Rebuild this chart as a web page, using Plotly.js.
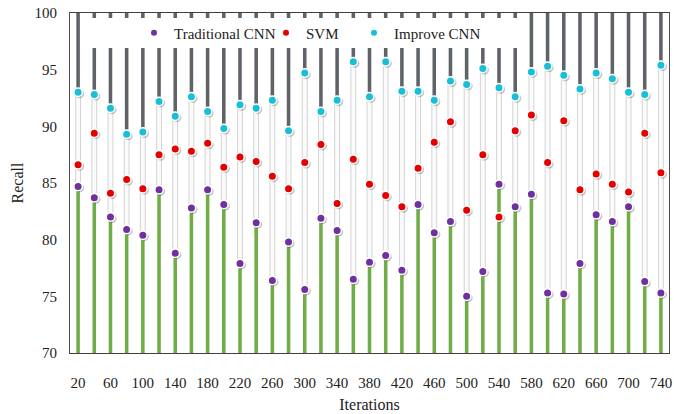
<!DOCTYPE html>
<html>
<head>
<meta charset="utf-8">
<script src="https://cdn.plot.ly/plotly-3.0.1.min.js"></script>
<style>html,body{margin:0;padding:0;background:#fff;}#chart{width:674px;height:414px;}</style>
</head>
<body>
<div id="chart"></div>
<script>
var iterations = ['20','40','60','80','100','120','140','160','180','200','220','240','260','280','300','320','340','360','380','400','420','440','460','480','500','520','540','560','580','600','620','640','660','680','700','720','740'];
var traditionalCNN = [84.7,83.7,82.0,80.9,80.4,84.4,78.8,82.8,84.4,83.1,77.9,81.5,76.4,79.8,75.6,81.9,80.8,76.5,78.0,78.6,77.3,83.1,80.6,81.6,75.0,77.2,84.9,82.9,84.0,75.3,75.2,77.9,82.2,81.6,82.9,76.3,75.3];
var svm = [86.6,89.4,84.1,85.3,84.5,87.5,88.0,87.8,88.5,86.4,87.3,86.9,85.6,84.5,86.8,88.4,83.2,87.1,84.9,83.9,82.9,86.3,88.6,90.4,82.6,87.5,82.0,89.6,91.0,86.8,90.5,84.4,85.8,84.9,84.2,89.4,85.9];
var improveCNN = [93.0,92.8,91.6,89.3,89.5,92.2,90.9,92.6,91.3,89.8,91.9,91.6,92.3,89.6,94.7,91.3,92.3,95.7,92.6,95.7,93.1,93.1,92.3,94.0,93.7,95.1,93.4,92.6,94.8,95.3,94.5,93.3,94.7,94.2,93.0,92.8,95.4];
var xTickLabels = ['20','60','100','140','180','220','260','300','340','380','420','460','500','540','580','620','660','700','740'];
var seriesNames = ['Traditional CNN','SVM','Improve CNN'];
var yMin = 70, yMax = 100;

var cPurple = '#7030a0', cRed = '#e60000', cCyan = '#19bfd9';
var font = "'Liberation Serif', 'Times New Roman', serif";

var greenH = traditionalCNN.map(function(v){return v - yMin;});
var lightH = improveCNN.map(function(v,i){return v - traditionalCNN[i];});
var darkH = improveCNN.map(function(v){return yMax - v;});

var traces = [
  {type:'bar', x:iterations, y:greenH, base:yMin, width:0.22, marker:{color:'#70ad47', line:{width:0}}, showlegend:false, hoverinfo:'skip'},
  {type:'bar', x:iterations, y:lightH, base:traditionalCNN, width:0.3, marker:{color:'#fbfbfb', line:{color:'#d4d4d4', width:1}}, showlegend:false, hoverinfo:'skip'},
  {type:'bar', x:iterations, y:darkH, base:improveCNN, width:0.22, marker:{color:'#5f6368', line:{width:0}}, showlegend:false, hoverinfo:'skip'}
];
var series = [traditionalCNN, svm, improveCNN];
var cols = [cPurple, cRed, cCyan];
series.forEach(function(s){
  traces.push({type:'scatter', mode:'markers', x:iterations, y:s, xaxis:'x2', yaxis:'y2', marker:{size:9, color:'rgba(0,0,0,0.22)'}, showlegend:false, hoverinfo:'skip'});
});
series.forEach(function(s,i){
  traces.push({type:'scatter', mode:'markers', x:iterations, y:s, xaxis:'x3', yaxis:'y3', name:seriesNames[i], marker:{size:8.5, color:cols[i], line:{color:'#ffffff', width:1.5}}, showlegend:false});
});
var legendIds = ['legend','legend2','legend3'];
series.forEach(function(s,i){
  traces.push({type:'scatter', mode:'markers', x:[null], y:[null], xaxis:'x3', yaxis:'y3', name:seriesNames[i], legend:legendIds[i], marker:{size:6, color:cols[i]}, showlegend:true});
});

var legBase = {orientation:'v', bgcolor:'rgba(0,0,0,0)', borderwidth:0, font:{family:font, size:15, color:'#222'}, yanchor:'middle', y:0.941, xanchor:'left'};
function leg(x){ var o = JSON.parse(JSON.stringify(legBase)); o.x = x; return o; }

var layout = {
  width:674, height:414,
  margin:{l:70, r:5, t:13, b:61},
  paper_bgcolor:'#fff', plot_bgcolor:'#fff',
  barmode:'overlay',
  font:{family:font, size:15, color:'#222'},
  xaxis:{type:'category', range:[-0.5,36.5], tickvals:xTickLabels, ticktext:xTickLabels, ticks:'outside', ticklen:16, tickcolor:'rgba(0,0,0,0)',
         showline:true, linecolor:'#404040', linewidth:1, mirror:true, showgrid:false, zeroline:false,
         tickfont:{family:font, size:15, color:'#222'},
         title:{text:'Iterations', font:{family:font, size:16, color:'#222'}, standoff:8}},
  yaxis:{range:[yMin,yMax], dtick:5, ticks:'outside', ticklen:9, tickcolor:'rgba(0,0,0,0)',
         showline:true, linecolor:'#505050', linewidth:1, mirror:true, showgrid:false, zeroline:false,
         tickfont:{family:font, size:15, color:'#222'},
         title:{text:'Recall', font:{family:font, size:16, color:'#222'}, standoff:6}},
  xaxis2:{type:'category', overlaying:'x', range:[-0.6,36.4], visible:false, categoryarray:iterations},
  yaxis2:{overlaying:'y', range:[yMin+0.13,yMax+0.13], visible:false},
  xaxis3:{type:'category', overlaying:'x', range:[-0.5,36.5], visible:false, categoryarray:iterations},
  yaxis3:{overlaying:'y', range:[yMin,yMax], visible:false},
  legend:leg((134-70)/599),
  legend2:leg((266-70)/599),
  legend3:leg((354-70)/599),
  shapes:[{type:'rect', xref:'paper', yref:'paper', x0:(86-70)/599, x1:(524-70)/599, y0:1-(48-13)/340, y1:1-(18-13)/340, fillcolor:'#ffffff', line:{width:0}, layer:'above'}]
};
Plotly.newPlot('chart', traces, layout, {displayModeBar:false, staticPlot:true});
</script>
</body>
</html>
